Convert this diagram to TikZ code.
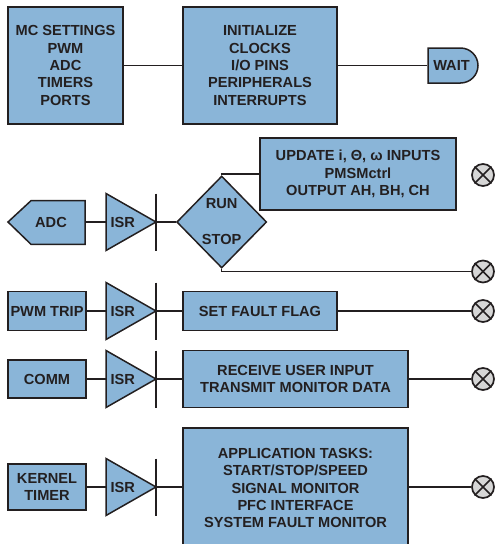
\documentclass[tikz,border=0pt]{standalone}
\usepackage{fontspec}
\setmainfont{Liberation Sans}
\usetikzlibrary{shapes.misc,shapes.geometric}

\definecolor{boxblue}{RGB}{138,181,216}
\definecolor{ink}{RGB}{35,31,32}
\definecolor{lampgray}{RGB}{214,214,214}

% ISR stage: triangle, label and the bar at its tip
\newcommand\isrstage[2]{%
  \draw[shapefill] (106,#2-28.5) -- (156,#2) -- (106,#2+28.5) -- cycle;
  \node[txt] (#1) at (122.7,#2) {ISR};
  \draw[wire] (156,#2-28.5) -- (156,#2+28.5);
  \coordinate (#1in) at (106,#2);
  \coordinate (#1out) at (156,#2);}

% end-of-thread symbol: circle with a cross
\newcommand\xlamp[2]{%
  \node[lamp] (#1) at (#2) {};
  \draw[ink, line width=1.5pt] (#1.north west) -- (#1.south east)
                               (#1.north east) -- (#1.south west);}

\begin{document}
\begin{tikzpicture}[x=1pt,y=-1pt,
  font=\bfseries\fontsize{14.6}{17.4}\selectfont,
  txt/.style={text=ink, inner sep=0pt, align=center},
  blk/.style={draw=ink, fill=boxblue, line width=1.5pt, text=ink, align=center, inner sep=0pt},
  shapefill/.style={draw=ink, fill=boxblue, line width=1.5pt, line join=miter},
  wire/.style={draw=ink, line width=1.2pt},
  lamp/.style={circle, draw=ink, fill=lampgray, line width=1.7pt, minimum size=22pt, inner sep=0pt},
]
\useasboundingbox (0,0) rectangle (495,544);
\clip (0,0) rectangle (495,544);

% ---- initialisation ----
\node[blk, minimum width=115, minimum height=117] (mc) at (65.5,65.5)
  {MC SETTINGS\\PWM\\ADC\\TIMERS\\PORTS};
\node[blk, minimum width=154, minimum height=117] (init) at (260,65.5)
  {INITIALIZE\\CLOCKS\\I/O PINS\\PERIPHERALS\\INTERRUPTS};
\node[blk, rounded rectangle, rounded rectangle left arc=none,
      minimum width=50, minimum height=35] (wait) at (453,65.5) {};
\node[txt] (waittext) at (451.5,65.5) {WAIT};
\draw[wire] (mc.east) -- (init.west);
\draw[wire] (init.east) -- (wait.west);

% ---- ADC thread ----
\draw[shapefill] (8,222) -- (31,200.7) -- (85,200.7) -- (85,244.3) -- (31,244.3) -- cycle;
\node[txt] (adc) at (51,222) {ADC};
\coordinate (adcout) at (85,222);
\isrstage{isra}{222}
\node[diamond, draw=ink, fill=boxblue, line width=1.5pt, shape aspect=0.978,
      minimum width=90, minimum height=92, inner sep=0pt] (rs) at (221.7,222) {};
\node[txt] (run) at (221.7,204) {RUN};
\node[txt] (stop) at (221.7,239) {STOP};
\node[blk, minimum width=196, minimum height=72] (upd) at (358,174)
  {UPDATE i, Θ, ω INPUTS\\PMSMctrl\\OUTPUT AH, BH, CH};
\xlamp{lampa}{483,175}
\xlamp{lampb}{483,271.5}
\draw[wire] (adcout) -- (israin);
\draw[wire] (israout) -- (rs.west);
\draw[wire] (rs.north) |- (upd.west);
\draw[wire] (rs.south) |- (lampb.west);

% ---- PWM trip thread ----
\node[blk, minimum width=78, minimum height=39] (pwm) at (47,311) {PWM TRIP};
\isrstage{isrb}{311}
\node[blk, minimum width=154, minimum height=39] (flag) at (260,311) {SET FAULT FLAG};
\xlamp{lampc}{483,311}
\draw[wire] (pwm.east) -- (isrbin);
\draw[wire] (isrbout) -- (flag.west);
\draw[wire] (flag.east) -- (lampc.west);

% ---- communication thread ----
\node[blk, minimum width=78, minimum height=38] (comm) at (47,379) {COMM};
\isrstage{isrc}{379}
\node[blk, minimum width=225, minimum height=57] (recv) at (295.5,379)
  {RECEIVE USER INPUT\\TRANSMIT MONITOR DATA};
\xlamp{lampd}{483,379}
\draw[wire] (comm.east) -- (isrcin);
\draw[wire] (isrcout) -- (recv.west);
\draw[wire] (recv.east) -- (lampd.west);

% ---- kernel timer thread ----
\node[blk, minimum width=78, minimum height=46] (kern) at (47,487) {KERNEL\\TIMER};
\isrstage{isrd}{487}
\node[blk, minimum width=225, minimum height=120] (app) at (295.5,488)
  {APPLICATION TASKS:\\START/STOP/SPEED\\SIGNAL MONITOR\\PFC INTERFACE\\SYSTEM FAULT MONITOR};
\xlamp{lampe}{483,487}
\draw[wire] (kern.east) -- (isrdin);
\draw[wire] (isrdout) -- (app.west |- isrdout);
\draw[wire] (app.east |- lampe) -- (lampe.west);
\end{tikzpicture}
\end{document}
